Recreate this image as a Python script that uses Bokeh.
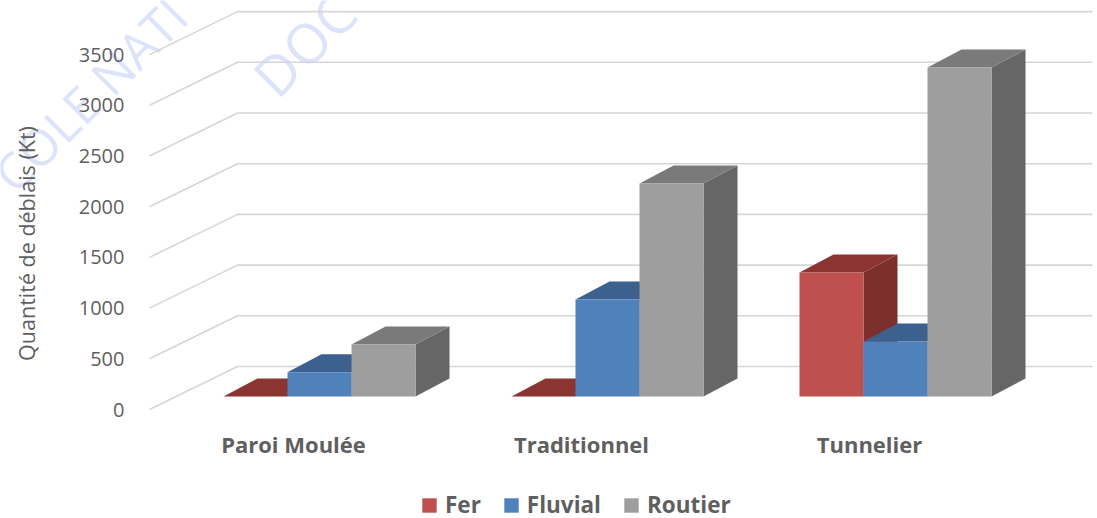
from bokeh.plotting import figure
from bokeh.embed import file_html
from bokeh.resources import INLINE
from bokeh.models import FixedTicker, Legend, LegendItem, Label

categories = ["Paroi Moulée", "Traditionnel", "Tunnelier"]
fer = [0, 0, 1223]
fluvial = [240, 957, 542]
routier = [513, 2100, 3245]
y_ticks = [0, 500, 1000, 1500, 2000, 2500, 3000, 3500]
series = ["Fer", "Fluvial", "Routier"]
series_values = [fer, fluvial, routier]
front_colors = ["#C0504D", "#4F81BD", "#9E9E9E"]
top_colors = ["#8B3432", "#3D618E", "#7A7A7A"]
side_colors = ["#7C2F2D", "#34547B", "#666666"]

W, H = 1097, 518
XU = 288.0        # px per category
YU = 0.1014       # px per value unit
Y0 = 409
X0 = 293
TEXT = "#5f5f5f"
FONT = "Open Sans"

p = figure(width=W, height=H, output_backend="svg", toolbar_location=None,
           x_range=(-X0 / XU, (W - X0) / XU),
           y_range=((Y0 - H) / YU, Y0 / YU),
           min_border_left=0, min_border_right=0, min_border_top=0, min_border_bottom=0)
p.outline_line_color = None
p.grid.visible = False
p.background_fill_color = "white"
p.border_fill_color = "white"

for txt, sx, sy, size in [("COLE NATI", 2, 182, "50px"), ("DOC", 262, 85, "55px")]:
    p.add_layout(Label(x=sx, y=H - sy, x_units="screen", y_units="screen", text=txt,
                       angle=45, angle_units="deg", text_font=FONT, text_font_size=size,
                       text_baseline="alphabetic",
                       text_color="#dce3fb", level="underlay"))

floor_dx, floor_dy = 88 / XU, 43 / YU
depth_dx, depth_dy = 34 / XU, 18 / YU
bar_dy = 13 / YU
bar_w = 64 / XU
grid_left = (149 - X0) / XU
right_end = (1092 - X0) / XU

xs = [[grid_left, grid_left + floor_dx, right_end] for _ in y_ticks]
ys = [[v, v + floor_dy, v + floor_dy] for v in y_ticks]
p.multi_line(xs, ys, line_color="#d6d6d6", line_width=1.6)

legend_items = []
for gi in range(len(categories)):
    start = gi + (223 - X0) / XU
    for si, vals in enumerate(series_values):
        x1 = start + si * bar_w
        x2 = x1 + bar_w
        b = bar_dy
        t = b + vals[gi]
        if vals[gi] > 0:
            p.patch([x2, x2 + depth_dx, x2 + depth_dx, x2],
                    [b, b + depth_dy, t + depth_dy, t],
                    fill_color=side_colors[si], line_color=None)
        p.patch([x1, x2, x2 + depth_dx, x1 + depth_dx],
                [t, t, t + depth_dy, t + depth_dy],
                fill_color=top_colors[si], line_color=None)
        r = p.quad(left=x1, right=x2, bottom=b, top=t,
                   fill_color=front_colors[si], line_color=None)
        if gi == 0:
            legend_items.append(LegendItem(label=series[si], renderers=[r]))

yax = p.yaxis[0]
yax.fixed_location = (135 - X0) / XU
yax.ticker = FixedTicker(ticks=y_ticks)
label_center = (Y0 - 243) / YU
yax.bounds = (label_center - 1900, label_center + 1900)
yax.axis_line_color = None
yax.major_tick_line_color = None
yax.minor_tick_line_color = None
yax.major_label_text_font = FONT
yax.major_label_text_font_size = "20px"
yax.major_label_text_color = TEXT
yax.major_label_standoff = 5
yax.axis_label = "Quantité de déblais (Kt)"
yax.axis_label_text_font = FONT
yax.axis_label_text_font_style = "normal"
yax.axis_label_text_font_size = "21.5px"
yax.axis_label_text_color = TEXT
yax.axis_label_standoff = 35

xax = p.xaxis[0]
xax.fixed_location = (Y0 - 420) / YU
xax.ticker = FixedTicker(ticks=list(range(len(categories))))
xax.major_label_overrides = {i: c for i, c in enumerate(categories)}
xax.axis_line_color = None
xax.major_tick_line_color = None
xax.minor_tick_line_color = None
xax.major_label_text_font = FONT
xax.major_label_text_font_style = "bold"
xax.major_label_text_font_size = "22px"
xax.major_label_text_color = TEXT
xax.major_label_standoff = 2

legend = Legend(items=legend_items, orientation="horizontal",
                location=(420, -2),
                border_line_color=None, background_fill_alpha=0,
                padding=0, margin=0, spacing=21,
                glyph_width=18, glyph_height=18, label_standoff=7,
                label_text_font=FONT, label_text_font_style="bold",
                label_text_font_size="22.5px", label_text_color=TEXT)
p.add_layout(legend, "center")

open("out.html", "w").write(file_html(p, INLINE))
